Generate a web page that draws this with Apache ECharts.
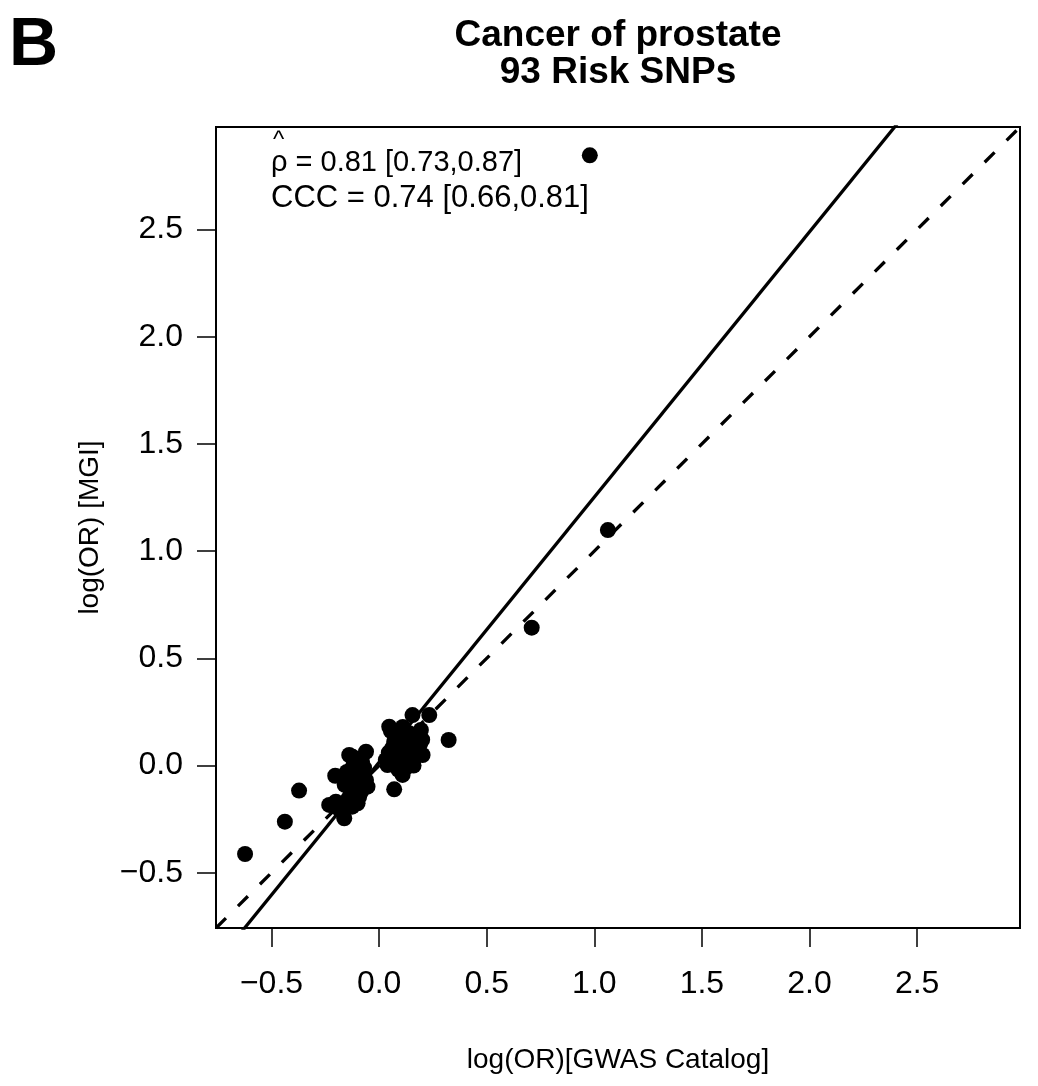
<!DOCTYPE html>
<html>
<head>
<meta charset="utf-8">
<script src="https://cdn.jsdelivr.net/npm/echarts@6/dist/echarts.min.js"></script>
<style>html,body{margin:0;padding:0;background:#fff}#c{width:1038px;height:1086px}</style>
</head>
<body>
<div id="c"></div>
<script>
// ---- data ----
const titleLines = ['Cancer of prostate', '93 Risk SNPs'];
const panelLetter = 'B';
const xName = 'log(OR)[GWAS Catalog]';
const yName = 'log(OR) [MGI]';
const tickValues = [-0.5, 0.0, 0.5, 1.0, 1.5, 2.0, 2.5];
const axisLimits = [-0.758, 2.978];
const rhoText = ' = 0.81 [0.73,0.87]';
const cccText = 'CCC = 0.74 [0.66,0.81]';
const fitIntercept = 0.015;
const fitSlope = 1.237;

// points: [GWAS catalog log(OR), MGI log(OR)]
const outlierPoints = [
  [-0.623, -0.413], [-0.438, -0.262], [-0.372, -0.117], [0.323, 0.119],
  [0.070, -0.111], [0.709, 0.643], [1.063, 1.098], [0.979, 2.846]
];
const lowerCluster = [
  [-0.061, 0.064], [-0.124, 0.041], [-0.139, 0.049], [-0.100, 0.030], [-0.080, 0.020],
  [-0.115, 0.010], [-0.070, -0.010], [-0.204, -0.048], [-0.130, -0.020], [-0.095, -0.030],
  [-0.110, -0.050], [-0.145, -0.060], [-0.069, -0.082], [-0.061, -0.068], [-0.054, -0.099],
  [-0.120, -0.080], [-0.090, -0.100], [-0.135, -0.110], [-0.105, -0.120], [-0.093, -0.146],
  [-0.140, -0.150], [-0.125, -0.192], [-0.100, -0.176], [-0.155, -0.170], [-0.170, -0.190],
  [-0.195, -0.192], [-0.232, -0.184], [-0.201, -0.169], [-0.162, -0.246], [-0.180, -0.210],
  [-0.115, -0.160], [-0.075, -0.050], [-0.150, -0.030], [-0.120, 0.000], [-0.085, -0.125],
  [-0.105, -0.070], [-0.160, -0.090], [-0.085, 0.000], [-0.130, -0.130]
];
const upperCluster = [
  [0.155, 0.235], [0.233, 0.235], [0.047, 0.181], [0.055, 0.160], [0.194, 0.166],
  [0.200, 0.120], [0.202, 0.049], [0.109, -0.044], [0.039, 0.002], [0.031, 0.026],
  [0.130, -0.006], [0.100, 0.020], [0.080, 0.050], [0.060, 0.080], [0.070, 0.110],
  [0.090, 0.140], [0.110, 0.120], [0.130, 0.100], [0.150, 0.130], [0.170, 0.090],
  [0.120, 0.070], [0.100, 0.090], [0.140, 0.050], [0.160, 0.030], [0.180, 0.060],
  [0.085, 0.000], [0.065, 0.030], [0.115, 0.040], [0.095, 0.065], [0.140, 0.150],
  [0.120, 0.160], [0.075, 0.130], [0.045, 0.060], [0.170, 0.120], [0.105, 0.105],
  [0.150, 0.070], [0.085, 0.095], [0.125, 0.015], [0.180, 0.145], [0.060, 0.010],
  [0.160, 0.000], [0.090, -0.020], [0.110, 0.180], [0.135, 0.085], [0.075, 0.070],
  [0.190, 0.100]
];

// ---- chart ----
const FONT = '"Liberation Sans", Arial, Helvetica, sans-serif';
const allPoints = [].concat(lowerCluster, upperCluster, outlierPoints);
const fmt = v => v.toFixed(1).replace('-', '\u2212');
const [lo, hi] = axisLimits;

const chart = echarts.init(document.getElementById('c'), null, {renderer: 'canvas'});
const axisCommon = {
  type: 'value', min: lo, max: hi,
  splitLine: {show: false},
  axisLine: {show: true, onZero: false, lineStyle: {color: '#000', width: 2}},
  axisTick: {show: true, customValues: tickValues, length: 19, inside: false, lineStyle: {color: '#000', width: 1.5}},
  nameLocation: 'middle',
  nameTextStyle: {fontFamily: FONT, fontSize: 28, color: '#000'}
};
chart.setOption({
  animation: false,
  backgroundColor: '#fff',
  grid: {left: 216, top: 127, right: 18, bottom: 158, show: true, borderColor: '#000', borderWidth: 2, backgroundColor: 'transparent'},
  xAxis: Object.assign({}, axisCommon, {
    name: xName, nameGap: 118,
    axisLabel: {customValues: tickValues, formatter: fmt, fontFamily: FONT, fontSize: 32, color: '#000', margin: 40}
  }),
  yAxis: Object.assign({}, axisCommon, {
    name: yName, nameGap: 112, nameRotate: 90,
    axisLabel: {customValues: tickValues, formatter: fmt, fontFamily: FONT, fontSize: 32, color: '#000', margin: 33}
  }),
  series: [
    {
      type: 'scatter', data: allPoints, symbol: 'circle', symbolSize: 16,
      itemStyle: {color: '#000', opacity: 1}, silent: true
    },
    {
      type: 'line', data: [[lo, lo], [hi, hi]], clip: true, symbol: 'none', silent: true,
      lineStyle: {color: '#000', width: 3.3, type: [14, 17]}
    },
    {
      type: 'line', data: [[lo, fitIntercept + fitSlope * lo], [hi, fitIntercept + fitSlope * hi]],
      clip: true, symbol: 'none', silent: true,
      lineStyle: {color: '#000', width: 3.3}
    }
  ],
  graphic: [
    {type: 'text', left: 9, top: 12, style: {text: panelLetter, font: 'bold 68px ' + FONT, fill: '#000'}},
    {type: 'text', x: 618, y: 36, style: {text: titleLines[0], font: 'bold 37px ' + FONT, fill: '#000', align: 'center', verticalAlign: 'middle'}},
    {type: 'text', x: 618, y: 73, style: {text: titleLines[1], font: 'bold 37px ' + FONT, fill: '#000', align: 'center', verticalAlign: 'middle'}},
    {type: 'text', x: 271, y: 163, style: {text: '\u03C1' + rhoText, font: '29px ' + FONT, fill: '#000', align: 'left', verticalAlign: 'middle'}},
    {type: 'text', x: 273, y: 140, style: {text: '^', font: '24px ' + FONT, fill: '#000', align: 'left', verticalAlign: 'middle'}},
    {type: 'text', x: 271, y: 198, style: {text: cccText, font: '31px ' + FONT, fill: '#000', align: 'left', verticalAlign: 'middle'}}
  ]
});
</script>
</body>
</html>
